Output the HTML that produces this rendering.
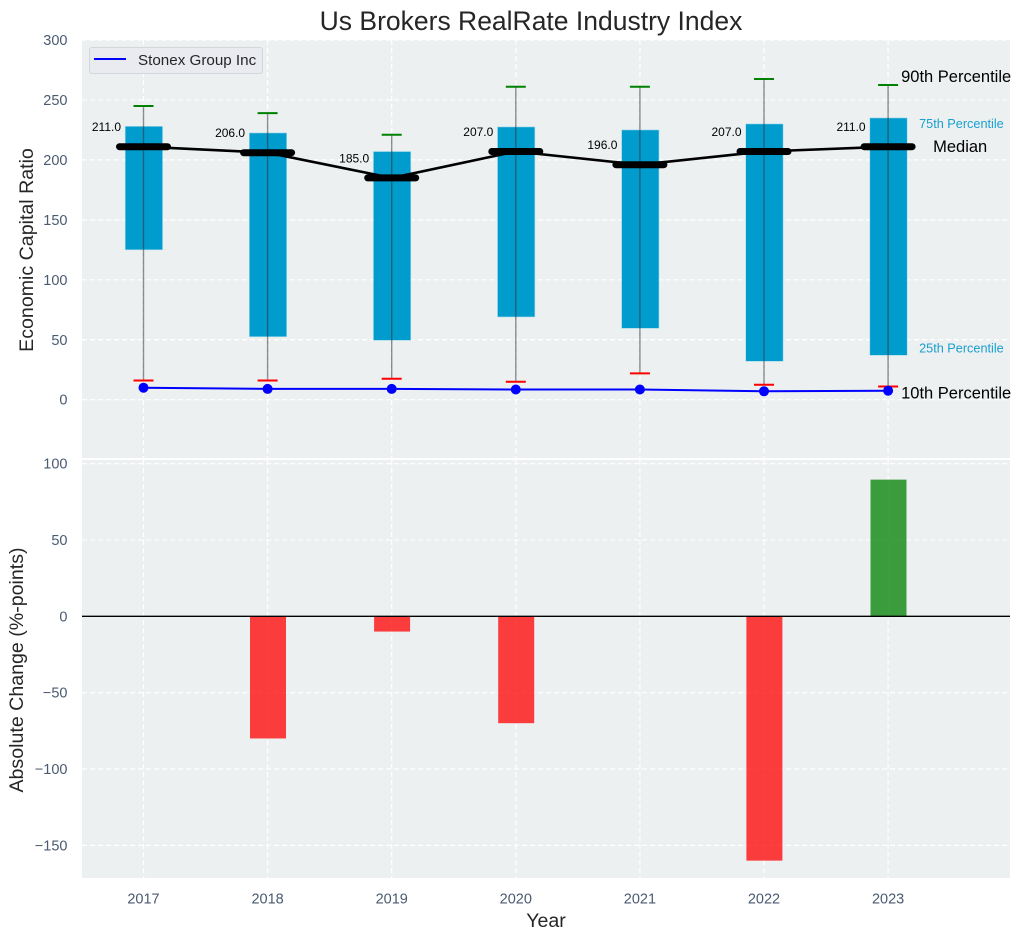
<!DOCTYPE html>
<html>
<head>
<meta charset="utf-8">
<title>Us Brokers RealRate Industry Index</title>
<style>
html,body{margin:0;padding:0;background:#fff;}
svg{display:block;font-family:"Liberation Sans",Arial,sans-serif;}
</style>
</head>
<body>
<svg id="chart" xmlns="http://www.w3.org/2000/svg" width="1021" height="940" viewBox="0 0 1021 940"></svg>
<script>
const years = [2017, 2018, 2019, 2020, 2021, 2022, 2023];
const p90 = [245, 239, 221, 261, 261, 267.5, 262.5];
const p75 = [228, 222.5, 207, 227.5, 225, 230, 235];
const median = [211, 206, 185, 207, 196, 207, 211];
const p25 = [125, 52.5, 49.5, 69, 59.5, 32, 37];
const p10 = [16, 16, 17.5, 15, 22, 12.5, 11];
const company = [10, 9, 9, 8.5, 8.5, 7, 7.5];
const changes = [null, -80, -10, -70, null, -160, 89.5];
const topTicks = [0, 50, 100, 150, 200, 250, 300];
const bottomTicks = [-150, -100, -50, 0, 50, 100];

const svg = document.getElementById('chart');
const NS = 'http://www.w3.org/2000/svg';
const L = 82, R = 1010, T1 = 40, B1 = 458, T2 = 460, B2 = 878;
const xPos = v => 143.5 + (v - 2017) * 124.1;
const yTop = v => 399.7 - v * 1.199;
const yBot = v => 616.3 - v * 1.527;

function mk(tag, attrs, text) {
  const el = document.createElementNS(NS, tag);
  for (const k in attrs) el.setAttribute(k, attrs[k]);
  if (text !== undefined) el.textContent = text;
  svg.appendChild(el);
  return el;
}
const tickColor = '#4a5a70';
const textColor = '#262626';
const gridDash = '5,3';

// panel backgrounds
let el = mk('rect', {x: L, y: T1, width: R - L, height: B1 - T1, fill: '#ecf0f1'});


el = mk('rect', {x: L, y: T2, width: R - L, height: B2 - T2, fill: '#ecf0f1'});



// title and axis titles
el = mk('text', {x: 531, y: 30, 'text-anchor': 'middle', 'font-size': 26.5, fill: textColor}, 'Us Brokers RealRate Industry Index');


el = mk('text', {x: 0, y: 0, transform: 'translate(33,250) rotate(-90)', 'text-anchor': 'middle', 'font-size': 19.6, fill: textColor}, 'Economic Capital Ratio');


el = mk('text', {x: 0, y: 0, transform: 'translate(23,670) rotate(-90)', 'text-anchor': 'middle', 'font-size': 19.6, fill: textColor}, 'Absolute Change (%-points)');


el = mk('text', {x: 546, y: 927, 'text-anchor': 'middle', 'font-size': 19.6, fill: textColor}, 'Year');



// grid lines and tick labels
topTicks.forEach(t => {
  el = mk('line', {x1: L, x2: R, y1: yTop(t), y2: yTop(t), stroke: '#fff', 'stroke-width': 1.2, 'stroke-dasharray': gridDash});
  
  
  el = mk('text', {x: 67.5, y: yTop(t) + 5, 'text-anchor': 'end', 'font-size': 14.5, fill: tickColor}, String(t));
  
  
});
bottomTicks.forEach(t => {
  el = mk('line', {x1: L, x2: R, y1: yBot(t), y2: yBot(t), stroke: '#fff', 'stroke-width': 1.2, 'stroke-dasharray': gridDash});
  
  
  el = mk('text', {x: 67.5, y: yBot(t) + 5, 'text-anchor': 'end', 'font-size': 14.5, fill: tickColor}, String(t).replace('-', '\u2212'));
  
  
});
years.forEach(y => {
  const x = xPos(y);
  el = mk('line', {x1: x, x2: x, y1: T1, y2: B1, stroke: '#fff', 'stroke-width': 1.2, 'stroke-dasharray': gridDash});
  
  
  el = mk('line', {x1: x, x2: x, y1: T2, y2: B2, stroke: '#fff', 'stroke-width': 1.2, 'stroke-dasharray': gridDash});
  
  
  el = mk('text', {x: x, y: 903.5, 'text-anchor': 'middle', 'font-size': 14.5, fill: tickColor}, String(y));
  
  
});

// percentile boxes, whiskers, caps
years.forEach((y, i) => {
  const x = xPos(y);
  el = mk('rect', {x: x - 18.3, y: yTop(p75[i]), width: 37.4, height: yTop(p25[i]) - yTop(p75[i]), fill: '#009ccd', stroke: '#a9dcec', 'stroke-width': 0.6});
  
  
  el = mk('line', {x1: x, x2: x, y1: yTop(p90[i]), y2: yTop(p10[i]), stroke: '#333', 'stroke-opacity': 0.55, 'stroke-width': 1.4});
  
  
  el = mk('line', {x1: x - 10, x2: x + 10, y1: yTop(p90[i]), y2: yTop(p90[i]), stroke: 'green', 'stroke-width': 2});
  
  
  el = mk('line', {x1: x - 10, x2: x + 10, y1: yTop(p10[i]), y2: yTop(p10[i]), stroke: 'red', 'stroke-width': 2});
  
  
});

// median line
el = mk('polyline', {points: years.map((y, i) => xPos(y) + ',' + yTop(median[i])).join(' '), fill: 'none', stroke: '#000', 'stroke-width': 2.6});


years.forEach((y, i) => {
  const x = xPos(y);
  el = mk('line', {x1: x - 24, x2: x + 24, y1: yTop(median[i]), y2: yTop(median[i]), stroke: '#000', 'stroke-width': 7, 'stroke-linecap': 'round'});
  
  
  el = mk('text', {x: x - 22.5, y: yTop(median[i]) - 15.5, 'text-anchor': 'end', 'font-size': 12, fill: '#000'}, median[i].toFixed(1));
  
  
});

// company line
el = mk('polyline', {points: years.map((y, i) => xPos(y) + ',' + yTop(company[i])).join(' '), fill: 'none', stroke: '#0000ff', 'stroke-width': 2});


years.forEach((y, i) => {
  el = mk('circle', {cx: xPos(y), cy: yTop(company[i]), r: 5, fill: '#0000ff'});
  
  
});

// percentile annotations
const last = years.length - 1;
const xl = xPos(years[last]);
el = mk('text', {x: xl + 13, y: yTop(p90[last]) - 3, 'font-size': 16.5, fill: '#000'}, '90th Percentile');


el = mk('text', {x: xl + 31, y: yTop(p75[last]) + 10, 'font-size': 12.7, fill: '#1a9fd0'}, '75th Percentile');


el = mk('text', {x: xl + 45, y: yTop(median[last]) + 5.5, 'font-size': 16.5, fill: '#000'}, 'Median');


el = mk('text', {x: xl + 31, y: yTop(p25[last]) - 3, 'font-size': 12.7, fill: '#1a9fd0'}, '25th Percentile');


el = mk('text', {x: xl + 13, y: yTop(p10[last]) + 12, 'font-size': 16.5, fill: '#000'}, '10th Percentile');



// change bars
years.forEach((y, i) => {
  const v = changes[i];
  if (v === null) return;
  const x = xPos(y);
  el = mk('rect', {x: x - 17.6, y: Math.min(yBot(v), yBot(0)), width: 36, height: Math.abs(yBot(v) - yBot(0)), fill: v < 0 ? '#ff0000' : '#008000', 'fill-opacity': 0.75});
  
  
});
el = mk('line', {x1: L, x2: R, y1: yBot(0), y2: yBot(0), stroke: '#000', 'stroke-width': 1.3});



// legend
el = mk('rect', {x: 89.5, y: 47.5, width: 173, height: 26, rx: 2.5, fill: '#e9ebf1', stroke: '#d3d6da', 'stroke-width': 1});


el = mk('line', {x1: 94, x2: 126, y1: 59, y2: 59, stroke: '#0000ff', 'stroke-width': 2});


el = mk('text', {x: 138, y: 65, 'font-size': 15.2, fill: textColor}, 'Stonex Group Inc');


</script>
</body>
</html>
